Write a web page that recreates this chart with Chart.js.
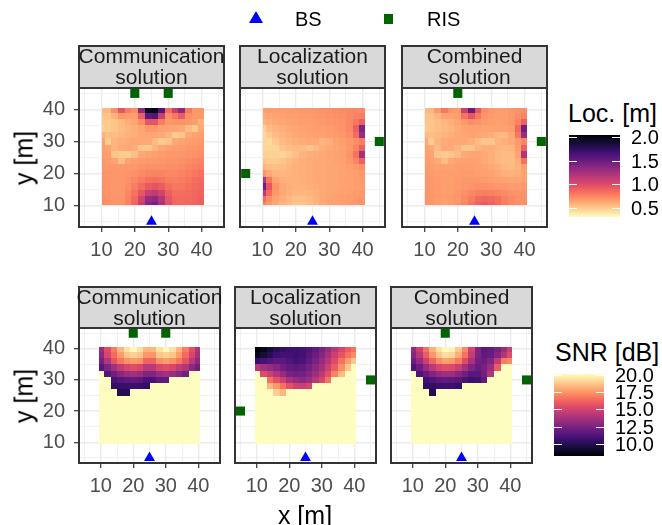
<!DOCTYPE html>
<html>
<head>
<meta charset="utf-8">
<title>Loc / SNR maps</title>
<script src="https://cdn.jsdelivr.net/npm/chart.js@4.4.0/dist/chart.umd.min.js"></script>
<style>
  body { margin:0; width:662px; height:525px; position:relative; overflow:hidden; background:#fff;
         font-family:"Liberation Sans", Arial, Helvetica, sans-serif; }
  canvas { position:absolute; }
  .strip { position:absolute; box-sizing:border-box; background:#d9d9d9; border:2px solid #333; }
  .striptxt { position:absolute; display:flex; flex-direction:column; align-items:center;
              font-size:21px; line-height:21px; color:#1a1a1a; white-space:nowrap; }
  .t { position:absolute; white-space:nowrap; line-height:1; }
</style>
</head>
<body>
<script>
// cell centres of the maps (m)
const xCols = [10,12,14,16,18,20,22,24,26,28,30,32,34,36,38,40];
const yRows = [40,38,36,34,32,30,28,26,24,22,20,18,16,14,12,10];
const P = 20.1; // SNR at or above the top of the scale

// Loc. [m], rows from y=40 down to y=10
const locComm = [
  [0.56,0.56,0.72,0.95,0.78,0.72,1.35,1.95,2.00,1.60,0.85,1.10,1.35,0.80,0.68,0.68],
  [0.52,0.52,0.58,0.68,0.66,0.66,0.90,1.55,1.60,1.10,0.72,0.80,0.92,0.72,0.68,0.68],
  [0.50,0.50,0.52,0.56,0.60,0.63,0.72,0.95,0.95,0.78,0.68,0.70,0.70,0.68,0.66,0.58],
  [0.47,0.50,0.52,0.55,0.58,0.60,0.63,0.68,0.68,0.65,0.64,0.63,0.62,0.55,0.50,0.62],
  [0.58,0.54,0.55,0.57,0.59,0.60,0.62,0.63,0.63,0.62,0.58,0.50,0.52,0.62,0.64,0.66],
  [0.64,0.50,0.58,0.60,0.61,0.62,0.62,0.62,0.56,0.50,0.52,0.62,0.64,0.66,0.67,0.68],
  [0.66,0.64,0.58,0.61,0.62,0.60,0.52,0.50,0.58,0.63,0.65,0.66,0.67,0.68,0.69,0.70],
  [0.67,0.66,0.52,0.50,0.50,0.54,0.62,0.64,0.66,0.67,0.68,0.68,0.69,0.70,0.71,0.72],
  [0.68,0.67,0.64,0.55,0.64,0.66,0.67,0.68,0.68,0.69,0.70,0.70,0.71,0.72,0.74,0.76],
  [0.69,0.68,0.68,0.68,0.68,0.69,0.70,0.71,0.71,0.71,0.72,0.72,0.73,0.75,0.77,0.79],
  [0.70,0.70,0.69,0.69,0.70,0.71,0.73,0.75,0.76,0.75,0.74,0.74,0.76,0.78,0.80,0.83],
  [0.70,0.70,0.69,0.69,0.71,0.74,0.78,0.82,0.84,0.82,0.78,0.77,0.78,0.81,0.84,0.86],
  [0.71,0.70,0.69,0.69,0.72,0.78,0.85,0.93,0.96,0.92,0.84,0.80,0.81,0.83,0.86,0.88],
  [0.71,0.70,0.69,0.69,0.74,0.82,0.95,1.10,1.15,1.05,0.90,0.84,0.84,0.85,0.87,0.89],
  [0.72,0.71,0.70,0.70,0.76,0.86,1.05,1.30,1.35,1.18,0.95,0.86,0.85,0.86,0.88,0.90],
  [0.72,0.71,0.70,0.70,0.76,0.88,1.10,1.38,1.45,1.22,0.97,0.87,0.86,0.86,0.88,0.90]
];
const locLoc = [
  [0.66,0.66,0.66,0.66,0.67,0.67,0.68,0.68,0.69,0.70,0.71,0.72,0.73,0.74,0.74,0.74],
  [0.62,0.63,0.64,0.65,0.66,0.66,0.67,0.67,0.68,0.69,0.70,0.71,0.72,0.74,0.76,0.78],
  [0.58,0.60,0.62,0.63,0.64,0.65,0.66,0.66,0.67,0.68,0.69,0.70,0.71,0.74,0.80,0.90],
  [0.48,0.55,0.58,0.60,0.62,0.63,0.64,0.65,0.66,0.66,0.67,0.68,0.70,0.74,0.90,1.40],
  [0.45,0.50,0.55,0.58,0.60,0.62,0.63,0.64,0.65,0.65,0.66,0.67,0.68,0.72,0.85,1.30],
  [0.46,0.45,0.50,0.56,0.58,0.60,0.61,0.62,0.62,0.58,0.60,0.64,0.66,0.68,0.72,0.78],
  [0.46,0.46,0.46,0.52,0.54,0.56,0.55,0.52,0.56,0.60,0.62,0.63,0.65,0.68,0.74,0.90],
  [0.48,0.47,0.48,0.46,0.50,0.54,0.58,0.60,0.61,0.62,0.63,0.64,0.65,0.70,0.82,1.25],
  [0.52,0.50,0.50,0.52,0.55,0.58,0.60,0.61,0.62,0.62,0.63,0.64,0.65,0.68,0.75,0.90],
  [0.58,0.55,0.54,0.55,0.57,0.59,0.60,0.61,0.62,0.62,0.63,0.63,0.64,0.66,0.68,0.72],
  [0.70,0.62,0.58,0.57,0.58,0.59,0.60,0.61,0.62,0.62,0.63,0.63,0.64,0.65,0.66,0.68],
  [1.20,0.80,0.64,0.60,0.59,0.59,0.60,0.61,0.62,0.62,0.63,0.63,0.64,0.65,0.66,0.67],
  [1.45,0.95,0.70,0.62,0.60,0.59,0.59,0.60,0.61,0.62,0.63,0.63,0.64,0.65,0.66,0.67],
  [1.15,0.85,0.68,0.62,0.59,0.57,0.57,0.58,0.60,0.62,0.63,0.64,0.65,0.66,0.67,0.68],
  [0.85,0.72,0.64,0.60,0.57,0.54,0.54,0.56,0.59,0.62,0.64,0.65,0.66,0.67,0.68,0.69],
  [0.75,0.68,0.62,0.58,0.55,0.52,0.52,0.55,0.58,0.62,0.64,0.65,0.66,0.67,0.68,0.70]
];
const locComb = [
  [0.56,0.57,0.68,0.80,0.70,0.68,1.10,1.50,0.95,0.72,0.68,0.66,0.66,0.68,0.70,0.72],
  [0.53,0.53,0.58,0.64,0.64,0.66,0.82,0.95,0.80,0.70,0.67,0.66,0.66,0.68,0.72,0.76],
  [0.52,0.52,0.54,0.57,0.60,0.63,0.68,0.72,0.70,0.67,0.66,0.65,0.66,0.68,0.76,0.90],
  [0.50,0.52,0.54,0.56,0.58,0.61,0.64,0.65,0.65,0.64,0.64,0.64,0.64,0.66,0.85,1.45],
  [0.56,0.54,0.56,0.58,0.60,0.62,0.63,0.64,0.63,0.62,0.60,0.57,0.56,0.62,0.80,1.30],
  [0.62,0.50,0.58,0.61,0.62,0.62,0.62,0.60,0.56,0.52,0.52,0.58,0.60,0.62,0.68,0.76],
  [0.64,0.62,0.56,0.62,0.62,0.58,0.52,0.52,0.58,0.60,0.60,0.58,0.57,0.58,0.66,0.90],
  [0.65,0.64,0.52,0.50,0.52,0.56,0.62,0.63,0.63,0.62,0.60,0.57,0.55,0.56,0.64,1.20],
  [0.66,0.65,0.62,0.55,0.62,0.64,0.65,0.65,0.64,0.62,0.60,0.57,0.55,0.55,0.60,0.82],
  [0.67,0.66,0.65,0.65,0.65,0.66,0.66,0.66,0.65,0.64,0.62,0.60,0.57,0.56,0.58,0.66],
  [0.68,0.67,0.66,0.66,0.66,0.66,0.67,0.67,0.66,0.65,0.64,0.62,0.60,0.59,0.60,0.64],
  [0.68,0.68,0.67,0.66,0.66,0.67,0.68,0.68,0.68,0.67,0.66,0.65,0.64,0.63,0.63,0.65],
  [0.69,0.68,0.67,0.66,0.66,0.67,0.69,0.70,0.71,0.71,0.70,0.69,0.68,0.67,0.67,0.68],
  [0.70,0.69,0.67,0.66,0.66,0.68,0.71,0.74,0.77,0.78,0.77,0.75,0.73,0.71,0.70,0.70],
  [0.70,0.69,0.67,0.66,0.67,0.69,0.73,0.79,0.85,0.88,0.86,0.82,0.77,0.73,0.71,0.71],
  [0.70,0.69,0.67,0.66,0.67,0.70,0.75,0.82,0.90,0.93,0.90,0.85,0.79,0.74,0.72,0.72]
];

// SNR [dB], rows from y=40 down to y=10
const snrComm = [
  [13.4,15.4,16.9,18.3,19.4,20.0,19.4,18.3,18.3,19.4,20.0,19.4,18.3,16.9,15.6,14.0],
  [13.0,15.1,16.4,17.7,18.7,19.0,18.7,17.5,17.5,18.7,19.0,18.7,17.7,16.4,15.1,13.7],
  [12.4,14.0,15.7,16.7,17.4,17.7,17.4,16.2,16.2,17.4,17.7,17.4,16.7,15.7,14.4,13.1],
  [11.5,12.6,13.6,14.5,15.2,15.5,15.2,14.3,14.3,15.2,15.5,15.2,14.5,14.0,13.0,12.2],
  [P,11.4,12.2,12.9,13.4,13.6,13.4,12.6,12.6,13.4,13.6,13.4,12.9,12.2,P,P],
  [P,P,11.0,11.4,11.7,11.8,11.7,11.1,11.1,11.7,11.8,P,P,P,P,P],
  [P,P,10.3,10.5,10.6,10.7,10.6,10.4,P,P,P,P,P,P,P,P],
  [P,P,P,10.0,10.0,P,P,P,P,P,P,P,P,P,P,P],
  [P,P,P,P,P,P,P,P,P,P,P,P,P,P,P,P],
  [P,P,P,P,P,P,P,P,P,P,P,P,P,P,P,P],
  [P,P,P,P,P,P,P,P,P,P,P,P,P,P,P,P],
  [P,P,P,P,P,P,P,P,P,P,P,P,P,P,P,P],
  [P,P,P,P,P,P,P,P,P,P,P,P,P,P,P,P],
  [P,P,P,P,P,P,P,P,P,P,P,P,P,P,P,P],
  [P,P,P,P,P,P,P,P,P,P,P,P,P,P,P,P],
  [P,P,P,P,P,P,P,P,P,P,P,P,P,P,P,P]
];
const snrLoc = [
  [8.3,8.9,9.5,10.1,10.4,10.7,10.7,10.9,11.3,11.8,12.4,13.3,14.2,15.1,16.0,16.6],
  [8.9,9.5,10.1,10.7,10.9,10.9,10.7,10.9,11.5,12.1,12.8,13.7,14.8,15.7,16.6,17.3],
  [10.6,11.0,11.3,11.6,11.6,11.3,10.9,11.1,11.8,12.5,13.3,14.2,15.4,16.6,17.7,18.7],
  [14.2,13.6,13.3,12.8,12.2,11.8,11.6,11.8,12.3,13.0,13.7,14.8,16.0,17.3,18.7,P],
  [P,15.4,14.8,14.0,13.3,12.5,12.2,12.3,12.8,13.5,14.4,15.6,17.0,18.4,P,P],
  [P,P,16.6,15.6,14.8,13.8,13.3,13.0,13.4,14.2,15.1,16.6,P,P,P,P],
  [P,P,18.3,17.5,16.6,15.6,14.9,14.8,15.1,P,P,P,P,P,P,P],
  [P,P,P,18.9,18.3,P,P,P,P,P,P,P,P,P,P,P],
  [P,P,P,P,P,P,P,P,P,P,P,P,P,P,P,P],
  [P,P,P,P,P,P,P,P,P,P,P,P,P,P,P,P],
  [P,P,P,P,P,P,P,P,P,P,P,P,P,P,P,P],
  [P,P,P,P,P,P,P,P,P,P,P,P,P,P,P,P],
  [P,P,P,P,P,P,P,P,P,P,P,P,P,P,P,P],
  [P,P,P,P,P,P,P,P,P,P,P,P,P,P,P,P],
  [P,P,P,P,P,P,P,P,P,P,P,P,P,P,P,P],
  [P,P,P,P,P,P,P,P,P,P,P,P,P,P,P,P]
];
const snrComb = [
  [13.2,14.8,16.6,18.2,19.4,20.0,19.8,18.8,17.2,15.0,12.6,11.6,11.8,12.4,13.4,14.8],
  [12.8,14.2,15.9,17.5,18.7,19.3,19.1,18.1,16.6,14.6,12.6,11.8,12.0,12.8,14.0,15.4],
  [12.1,13.3,14.8,16.2,17.3,17.8,17.6,16.8,15.4,13.8,12.3,12.1,12.7,14.5,16.8,17.2],
  [11.2,12.1,13.3,14.3,15.1,15.5,15.3,14.7,13.7,12.6,12.0,12.4,13.4,16.0,P,P],
  [P,11.2,12.0,12.7,13.3,13.5,13.4,12.9,12.2,11.5,11.5,12.3,14.0,P,P,P],
  [P,P,10.8,11.2,11.6,11.8,11.7,11.5,11.1,10.7,10.9,11.8,P,P,P,P],
  [P,P,10.3,10.4,10.6,10.7,10.7,10.5,P,P,P,P,P,P,P,P],
  [P,P,P,10.0,P,P,P,P,P,P,P,P,P,P,P,P],
  [P,P,P,P,P,P,P,P,P,P,P,P,P,P,P,P],
  [P,P,P,P,P,P,P,P,P,P,P,P,P,P,P,P],
  [P,P,P,P,P,P,P,P,P,P,P,P,P,P,P,P],
  [P,P,P,P,P,P,P,P,P,P,P,P,P,P,P,P],
  [P,P,P,P,P,P,P,P,P,P,P,P,P,P,P,P],
  [P,P,P,P,P,P,P,P,P,P,P,P,P,P,P,P],
  [P,P,P,P,P,P,P,P,P,P,P,P,P,P,P,P],
  [P,P,P,P,P,P,P,P,P,P,P,P,P,P,P,P]
];

// BS and RIS positions (m)
const bsX = [25], bsY = [5];
const risCommX = [20, 30], risCommY = [45, 45];
const risLocX = [5, 45], risLocY = [20, 30];
const risCombX = [20, 45], risCombY = [45, 30];

const axisBreaks = [5,10,15,20,25,30,35,40,45];
const locBreaks = [0.5, 1.0, 1.5, 2.0];
const snrBreaks = [10, 12.5, 15, 17.5, 20];
const locLim = [0.31, 2.04];
const snrLim = [8.3, 20.1];
const facetNames = [['Communication', 'solution'], ['Localization', 'solution'], ['Combined', 'solution']];

// extent of the raster in each row of panels (m)
const topExt = { x0: 10.1, x1: 40.8, y0: 10.3, y1: 40.4 };
const botExt = { x0: 9.5, x1: 40.5, y0: 9.5, y1: 40.6 };

Chart.defaults.font.family = '"Liberation Sans", Arial, Helvetica, sans-serif';

const magmaHex = ['#000004','#140e36','#3b0f70','#641a80','#8c2981','#b73779',
                  '#de4968','#f7705c','#fe9f6d','#fecf92','#fcfdbf'];
const magmaRGB = magmaHex.map(h => [1, 3, 5].map(k => parseInt(h.substr(k, 2), 16)));
function magma(t) {
  t = Math.min(1, Math.max(0, t)) * (magmaRGB.length - 1);
  const i = Math.min(Math.floor(t), magmaRGB.length - 2), f = t - i;
  const a = magmaRGB[i], b = magmaRGB[i + 1];
  return 'rgb(' + a.map((c, k) => Math.round(c + (b[k] - c) * f)).join(',') + ')';
}
function cellColor(kind, v) {
  if (kind === 'loc') return magma(1 - (v - locLim[0]) / (locLim[1] - locLim[0]));
  return magma((v - snrLim[0]) / (snrLim[1] - snrLim[0]));
}

function heatLayer(field, kind, ext) {
  return {
    id: 'heat',
    beforeDatasetsDraw(chart) {
      const { ctx, scales: { x, y } } = chart;
      ctx.save();
      yRows.forEach((yc, j) => xCols.forEach((xc, i) => {
        const x0 = Math.round(x.getPixelForValue(Math.max(xc - 1, ext.x0)));
        const x1 = Math.round(x.getPixelForValue(Math.min(xc + 1, ext.x1)));
        const y0 = Math.round(y.getPixelForValue(Math.min(yc + 1, ext.y1)));
        const y1 = Math.round(y.getPixelForValue(Math.max(yc - 1, ext.y0)));
        ctx.fillStyle = cellColor(kind, field[j][i]);
        ctx.fillRect(x0, y0, x1 - x0, y1 - y0);
      }));
      ctx.restore();
    },
    afterDraw(chart) {
      const a = chart.chartArea, ctx = chart.ctx;
      ctx.save();
      ctx.strokeStyle = '#333';
      ctx.lineWidth = 2;
      ctx.strokeRect(a.left + 1, a.top + 1, a.width - 2, a.height - 2);
      ctx.restore();
    }
  };
}

function axis(showLabels, size, pad) {
  return {
    type: 'linear', min: 3, max: 47,
    afterBuildTicks: s => { s.ticks = axisBreaks.map(v => ({ value: v })); },
    afterFit: s => { if (s.isHorizontal()) s.height = size; else s.width = size; },
    ticks: {
      display: showLabels, autoSkip: false, maxRotation: 0, padding: pad,
      color: '#4d4d4d', font: { size: 20 },
      callback: v => (v % 10 === 0 ? String(v) : '')
    },
    grid: {
      color: '#ebebeb',
      lineWidth: c => (c.tick && c.tick.value % 10 === 0 ? 1.4 : 0.7),
      drawTicks: showLabels, tickLength: 4, tickWidth: 1.2,
      tickColor: c => (c.tick && c.tick.value % 10 === 0 ? '#333' : 'rgba(0,0,0,0)')
    },
    border: { display: false }
  };
}

function addText(txt, css) {
  const d = document.createElement('div');
  d.className = 't';
  d.textContent = txt;
  Object.assign(d.style, css);
  document.body.appendChild(d);
  return d;
}

const panelRows = [
  { top: 87, h: 141, stripTop: 45, w: 147, lefts: [78, 239, 401], ext: topExt, kind: 'loc',
    fields: [locComm, locLoc, locComb] },
  { top: 327, h: 137, stripTop: 286, w: 143, lefts: [78, 234, 390], ext: botExt, kind: 'snr',
    fields: [snrComm, snrLoc, snrComb] }
];
const risX = [risCommX, risLocX, risCombX];
const risY = [risCommY, risLocY, risCombY];

panelRows.forEach(row => {
  row.lefts.forEach((left, k) => {
    // fixed axis sizes and generous layout padding keep the plot area exactly on the panel
    const yw = k === 0 ? 50 : 0, padL = k === 0 ? 0 : 10, padT = 28, padR = 10, xh = 40;
    const cv = document.createElement('canvas');
    cv.width = padL + yw + row.w + padR;
    cv.height = padT + row.h + xh;
    cv.style.left = (left - yw - padL) + 'px';
    cv.style.top = (row.top - padT) + 'px';
    document.body.appendChild(cv);

    new Chart(cv, {
      type: 'scatter',
      data: {
        datasets: [
          { label: 'BS', data: bsX.map((v, i) => ({ x: v, y: bsY[i] })),
            pointStyle: 'triangle', pointRadius: 6.3, pointHoverRadius: 6.3,
            pointBackgroundColor: '#0000ff', pointBorderWidth: 0 },
          { label: 'RIS', data: risX[k].map((v, i) => ({ x: v, y: risY[k][i] })),
            pointStyle: 'rect', pointRadius: 6.4, pointHoverRadius: 6.4,
            pointBackgroundColor: '#006400', pointBorderWidth: 0 }
        ]
      },
      options: {
        responsive: false, animation: false, events: [],
        layout: { padding: { top: padT, right: padR, left: padL, bottom: 0 } },
        plugins: { legend: { display: false }, tooltip: { enabled: false } },
        scales: { x: axis(true, xh, 6), y: axis(k === 0, yw, 9) }
      },
      plugins: [heatLayer(row.fields[k], row.kind, row.ext)]
    });

    const st = document.createElement('div');
    st.className = 'strip';
    Object.assign(st.style, { left: left + 'px', top: row.stripTop + 'px', width: row.w + 'px',
                              height: (row.top - row.stripTop + 2) + 'px' });
    document.body.appendChild(st);
    const tx = document.createElement('div');
    tx.className = 'striptxt';
    Object.assign(tx.style, { left: left + 'px', top: row.stripTop + 'px', width: row.w + 'px' });
    facetNames[k].forEach(line => {
      const s = document.createElement('span');
      s.textContent = line;
      tx.appendChild(s);
    });
    document.body.appendChild(tx);
  });

  addText('y [m]', { left: '24px', top: (row.top + row.h / 2) + 'px', fontSize: '25px', color: '#000',
                     transform: 'translate(-50%,-50%) rotate(-90deg)' });
});

addText('x [m]', { left: '305px', top: '502.5px', fontSize: '25px', color: '#000', transform: 'translateX(-50%)' });

// colour bars
function colorbar(kind, lim, breaks, title, titleX, titleTop, bx, by, bw, bh, labelX) {
  addText(title, { left: titleX + 'px', top: titleTop + 'px', fontSize: '25px', color: '#000' });
  const cv = document.createElement('canvas');
  cv.width = bw; cv.height = bh;
  cv.style.left = bx + 'px'; cv.style.top = by + 'px';
  document.body.appendChild(cv);
  const ctx = cv.getContext('2d');
  for (let py = 0; py < bh; py++) {
    const v = lim[1] - (py + 0.5) / bh * (lim[1] - lim[0]);
    ctx.fillStyle = cellColor(kind, v);
    ctx.fillRect(0, py, bw, 1);
  }
  ctx.strokeStyle = '#fff';
  ctx.lineWidth = 1;
  breaks.forEach(b => {
    const py = bh - (b - lim[0]) / (lim[1] - lim[0]) * bh;
    const yy = Math.round(py) + 0.5;
    ctx.beginPath();
    ctx.moveTo(0, yy); ctx.lineTo(8, yy);
    ctx.moveTo(bw - 8, yy); ctx.lineTo(bw, yy);
    ctx.stroke();
    addText(b.toFixed(1), { left: labelX + 'px', top: (by + py - 10) + 'px', fontSize: '20px', color: '#000' });
  });
}
colorbar('loc', locLim, locBreaks, 'Loc. [m]', 568, 100.7, 569, 135, 51, 82, 631);
colorbar('snr', snrLim, snrBreaks, 'SNR [dB]', 555, 340, 554, 374, 50, 82, 615);

// shape legend at the top
const tri = document.createElementNS('http://www.w3.org/2000/svg', 'svg');
tri.setAttribute('width', '14'); tri.setAttribute('height', '12');
tri.style.cssText = 'position:absolute;left:249px;top:11px';
tri.innerHTML = '<polygon points="7,0 14,12 0,12" fill="#0000ff"/>';
document.body.appendChild(tri);
addText('BS', { left: '295px', top: '8.5px', fontSize: '20px', color: '#000' });
const sq = document.createElement('div');
sq.style.cssText = 'position:absolute;left:384px;top:14px;width:9px;height:10px;background:#006400';
document.body.appendChild(sq);
addText('RIS', { left: '427px', top: '8.5px', fontSize: '20px', color: '#000' });
</script>
</body>
</html>
